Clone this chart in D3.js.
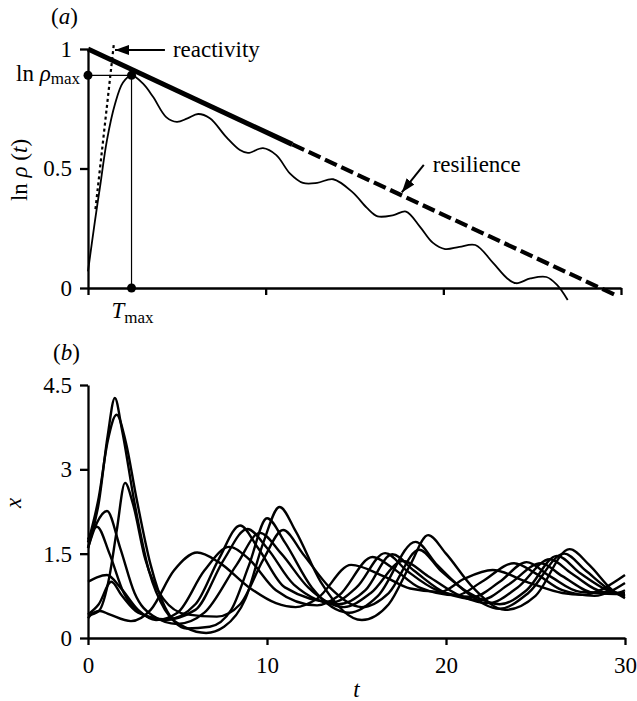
<!DOCTYPE html>
<html>
<head>
<meta charset="utf-8">
<script src="https://cdn.jsdelivr.net/npm/d3@7"></script>
<style>
  body { margin: 0; background: #fff; }
  text { font-family: "Liberation Serif", "Times New Roman", serif; fill: #000; }
</style>
</head>
<body>
<script>
// panel (a): ln rho(t) against t
const rhoCurve = [
    [0, 0.07], [0.39, 0.28], [0.67, 0.42], [1.07, 0.62], [1.52, 0.77], [1.97, 0.86],
    [2.45, 0.89], [3.1, 0.855], [3.66, 0.8], [4.4, 0.715], [5.0, 0.695], [5.6, 0.71],
    [6.2, 0.728], [6.86, 0.71], [7.8, 0.63], [8.55, 0.577], [9.0, 0.565], [9.85, 0.585],
    [10.6, 0.556], [11.36, 0.48], [12.1, 0.44], [12.9, 0.44], [13.8, 0.455], [14.9, 0.40],
    [15.7, 0.335], [16.3, 0.30], [17.2, 0.305], [17.9, 0.32], [18.7, 0.255], [19.4, 0.19],
    [20.1, 0.163], [20.9, 0.172], [21.8, 0.18], [22.8, 0.105], [23.6, 0.04], [24.1, 0.02],
    [24.9, 0.04], [25.8, 0.046], [26.4, 0.013], [27.0, -0.05]
];
const resilienceSolid = [[0, 1], [11.5, 0.601]];
const resilienceDashed = [[11.5, 0.601], [29.7, -0.03]];
const reactivityLine = [[0.42, 0.33], [1.46, 1.024]];
const tMax = 2.45;
const rhoMax = 0.89;
const topYTicks = [0, 0.5, 1];
const xTicks = [0, 10, 20, 30];

// panel (b): x(t) trajectories
const trajectories = [
    [[0,0.35],[0.3,0.45],[0.67,0.48],[1.2,0.42],[2.4,0.3],[3.5,0.5],[4.8,1.2],[6.1,1.52],[7.3,1.35],[9,0.9],[10.5,0.62],[11.6,0.55],[12.8,0.7],[14.7,1.3],[16.5,1.1],[18,0.88],[19.7,0.82],[21,1.05],[22.6,1.21],[24.5,1.0],[26.5,0.8],[27.6,0.77],[30,1.12]],
    [[0,1.0],[0.5,1.08],[1.06,1.12],[1.8,0.9],[2.8,0.5],[3.8,0.32],[5,0.45],[6.5,1.2],[7.9,1.62],[9,1.4],[10.5,0.85],[12.8,0.58],[14,0.75],[15.9,1.44],[17,1.25],[18.5,0.9],[20.6,0.76],[22,1.0],[23.8,1.33],[25,1.15],[26.5,0.85],[28.3,0.75],[30,0.98]],
    [[0,0.42],[0.6,0.6],[1.3,1.0],[1.9,0.75],[2.8,0.45],[4.4,0.33],[6,0.6],[7.3,1.4],[8.5,2.0],[9.5,1.6],[11,0.9],[13.7,0.64],[15,0.9],[16.6,1.51],[17.8,1.2],[19.5,0.85],[21.5,0.73],[23,1.0],[24.5,1.35],[25.8,1.1],[27.5,0.82],[29.5,0.8],[30,0.85]],
    [[0,1.75],[0.5,1.98],[1.2,1.5],[2.0,0.8],[2.9,0.45],[4.2,0.32],[6,0.5],[7.6,1.4],[8.9,1.94],[10,1.6],[11.5,0.95],[14,0.6],[15.5,0.85],[17.0,1.49],[18.2,1.2],[20,0.8],[22,0.68],[23.5,0.95],[25.3,1.33],[26.5,1.1],[28.3,0.8],[30,0.78]],
    [[0,1.6],[0.5,2.05],[1.06,2.26],[1.8,1.6],[2.6,0.8],[3.6,0.4],[5,0.25],[6.5,0.45],[8.3,1.3],[9.6,1.87],[10.8,1.5],[12.3,0.9],[14.3,0.55],[15.8,0.8],[17.6,1.37],[19,1.1],[20.8,0.75],[22.4,0.62],[24,0.9],[25.8,1.4],[27,1.15],[28.8,0.82],[30,0.8]],
    [[0,0.4],[0.6,0.48],[1.2,1.1],[1.6,1.9],[2.07,2.76],[2.5,2.4],[3.2,1.4],[4.2,0.7],[5.5,0.42],[7.2,0.38],[8.5,0.6],[9.8,1.4],[10.9,1.92],[12,1.5],[13.5,0.9],[15.3,0.55],[16.8,0.8],[18.5,1.57],[19.7,1.2],[21.3,0.8],[23,0.6],[24.5,0.85],[26.2,1.46],[27.5,1.15],[29,0.85],[30,0.75]],
    [[0,1.7],[0.6,2.5],[1.1,3.5],[1.6,3.97],[2.1,3.5],[2.7,2.5],[3.5,1.3],[4.3,0.55],[5.5,0.17],[6.8,0.2],[8,0.5],[9,1.3],[10.0,2.13],[11,1.7],[12.5,0.9],[14.6,0.45],[16.2,0.75],[18.3,1.71],[19.5,1.3],[21.2,0.8],[23,0.52],[24.6,0.8],[26.6,1.5],[27.8,1.2],[29.2,0.85],[30,0.75]],
    [[0,1.6],[0.6,2.4],[1.1,3.6],[1.5,4.27],[1.9,3.7],[2.6,2.4],[3.4,1.2],[4.3,0.5],[5.5,0.18],[6.6,0.09],[7.6,0.2],[8.8,0.7],[9.8,1.7],[10.7,2.33],[11.6,1.9],[13,1.0],[15.3,0.32],[16.8,0.6],[18,1.3],[19.0,1.83],[20,1.5],[21.5,0.9],[23.3,0.5],[25,0.75],[26.9,1.58],[28,1.3],[29.3,0.85],[30,0.71]]
];
const bottomYTicks = [0, 1.5, 3, 4.5];

const width = 637, height = 701;
const fontSize = 23;
const serif = "'Liberation Serif', 'Times New Roman', serif";

const svg = d3.select("body").append("svg")
    .attr("width", width)
    .attr("height", height)
    .style("font-family", serif);

// scales
const xTop = d3.scaleLinear().domain([0, 30]).range([88, 621]);
const yTop = d3.scaleLinear().domain([0, 1]).range([288, 49]);
const xBot = d3.scaleLinear().domain([0, 30]).range([88, 625]);
const yBot = d3.scaleLinear().domain([0, 4.5]).range([638, 385]);

function styleAxis(g) {
    g.attr("font-family", null);
    g.select(".domain").attr("stroke-width", 2.3);
    g.selectAll(".tick line").attr("stroke-width", 2.3);
    g.selectAll(".tick text")
        .style("font-family", serif)
        .attr("font-size", fontSize)
        .attr("fill", "#000");
}

// ---------- panel (a) ----------
const topX = svg.append("g")
    .attr("transform", "translate(0,288)")
    .call(d3.axisBottom(xTop).tickValues(xTicks).tickSize(7).tickSizeOuter(0).tickFormat(""));
styleAxis(topX);

const topY = svg.append("g")
    .attr("transform", "translate(88,0)")
    .call(d3.axisLeft(yTop).tickValues(topYTicks).tickSize(8).tickSizeOuter(0).tickPadding(8)
        .tickFormat(d => d));
styleAxis(topY);

// T max guide lines
svg.append("line")
    .attr("x1", xTop(0)).attr("x2", xTop(tMax))
    .attr("y1", yTop(rhoMax)).attr("y2", yTop(rhoMax))
    .attr("stroke", "#000").attr("stroke-width", 1.2);
svg.append("line")
    .attr("x1", xTop(tMax)).attr("x2", xTop(tMax))
    .attr("y1", yTop(rhoMax)).attr("y2", yTop(0))
    .attr("stroke", "#000").attr("stroke-width", 1.2);

const lineTop = d3.line()
    .x(d => xTop(d[0]))
    .y(d => yTop(d[1]));

svg.append("path")
    .datum(rhoCurve)
    .attr("d", lineTop.curve(d3.curveCatmullRom))
    .attr("fill", "none")
    .attr("stroke", "#000")
    .attr("stroke-width", 1.8);

lineTop.curve(d3.curveLinear);

svg.append("path")
    .datum(resilienceSolid)
    .attr("d", lineTop)
    .attr("fill", "none")
    .attr("stroke", "#000")
    .attr("stroke-width", 5);

svg.append("path")
    .datum(resilienceDashed)
    .attr("d", lineTop)
    .attr("fill", "none")
    .attr("stroke", "#000")
    .attr("stroke-width", 4.2)
    .attr("stroke-dasharray", "13,5");

svg.append("path")
    .datum(reactivityLine)
    .attr("d", lineTop)
    .attr("fill", "none")
    .attr("stroke", "#000")
    .attr("stroke-width", 2.2)
    .attr("stroke-dasharray", "3,3");

// dots
svg.selectAll(".dot")
    .data([[0, rhoMax], [tMax, rhoMax], [tMax, 0]])
    .enter().append("circle")
    .attr("class", "dot")
    .attr("cx", d => xTop(d[0]))
    .attr("cy", d => yTop(d[1]))
    .attr("r", 4.5)
    .attr("fill", "#000");

// arrows
svg.append("defs").append("marker")
    .attr("id", "head")
    .attr("viewBox", "0 0 14 10")
    .attr("refX", 14).attr("refY", 5)
    .attr("markerWidth", 14).attr("markerHeight", 10)
    .attr("markerUnits", "userSpaceOnUse")
    .attr("orient", "auto")
    .append("path")
    .attr("d", "M0,0L14,5L0,10Z")
    .attr("fill", "#000");

function arrow(from, to) {
    svg.append("line")
        .attr("x1", xTop(from[0])).attr("y1", yTop(from[1]))
        .attr("x2", xTop(to[0])).attr("y2", yTop(to[1]))
        .attr("stroke", "#000").attr("stroke-width", 2)
        .attr("marker-end", "url(#head)");
}
arrow([4.33, 0.996], [1.52, 0.996]);
arrow([18.9, 0.515], [17.66, 0.4]);

svg.append("text")
    .attr("x", xTop(4.78)).attr("y", yTop(0.967))
    .attr("font-size", fontSize)
    .text("reactivity");

svg.append("text")
    .attr("x", xTop(19.4)).attr("y", yTop(0.485))
    .attr("font-size", fontSize)
    .text("resilience");

// ln rho max label
const lnMax = svg.append("text")
    .attr("x", 80).attr("y", 81)
    .attr("text-anchor", "end")
    .attr("font-size", fontSize);
lnMax.append("tspan").text("ln ");
lnMax.append("tspan").attr("font-style", "italic").text("ρ");
lnMax.append("tspan").attr("font-size", 17).attr("dy", 3).text("max");

// T max label
const tLab = svg.append("text")
    .attr("x", xTop(tMax) - 20).attr("y", 318)
    .attr("font-size", fontSize);
tLab.append("tspan").attr("font-style", "italic").text("T");
tLab.append("tspan").attr("font-size", 17).attr("dy", 5).text("max");

// y label (a)
const yLabA = svg.append("text")
    .attr("transform", "translate(27,170) rotate(-90)")
    .attr("text-anchor", "middle")
    .attr("font-size", fontSize);
yLabA.append("tspan").text("ln ");
yLabA.append("tspan").attr("font-style", "italic").text("ρ");
yLabA.append("tspan").text(" (");
yLabA.append("tspan").attr("font-style", "italic").text("t");
yLabA.append("tspan").text(")");

const pa = svg.append("text").attr("x", 51).attr("y", 24).attr("font-size", fontSize);
pa.append("tspan").text("(");
pa.append("tspan").attr("font-style", "italic").text("a");
pa.append("tspan").text(")");

// ---------- panel (b) ----------
const botX = svg.append("g")
    .attr("transform", "translate(0,638)")
    .call(d3.axisBottom(xBot).tickValues(xTicks).tickSize(7).tickSizeOuter(0).tickPadding(12));
styleAxis(botX);

const botY = svg.append("g")
    .attr("transform", "translate(88,0)")
    .call(d3.axisLeft(yBot).tickValues(bottomYTicks).tickSize(8).tickSizeOuter(0).tickPadding(8)
        .tickFormat(d => d));
styleAxis(botY);

const lineBot = d3.line()
    .x(d => xBot(d[0]))
    .y(d => yBot(d[1]))
    .curve(d3.curveMonotoneX);

svg.selectAll(".traj")
    .data(trajectories)
    .enter().append("path")
    .attr("class", "traj")
    .attr("d", lineBot)
    .attr("fill", "none")
    .attr("stroke", "#000")
    .attr("stroke-width", 2.4);

svg.append("text")
    .attr("x", xBot(15)).attr("y", 697)
    .attr("text-anchor", "middle")
    .attr("font-style", "italic")
    .attr("font-size", fontSize)
    .text("t");

svg.append("text")
    .attr("transform", "translate(21,503) rotate(-90)")
    .attr("text-anchor", "middle")
    .attr("font-style", "italic")
    .attr("font-size", fontSize)
    .text("x");

const pb = svg.append("text").attr("x", 53).attr("y", 360).attr("font-size", fontSize);
pb.append("tspan").text("(");
pb.append("tspan").attr("font-style", "italic").text("b");
pb.append("tspan").text(")");
</script>
</body>
</html>
